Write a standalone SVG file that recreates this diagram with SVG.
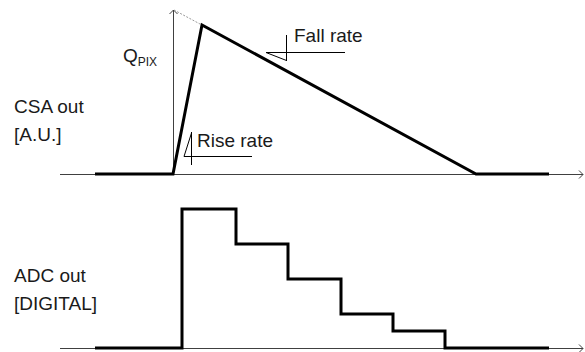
<svg xmlns="http://www.w3.org/2000/svg" width="585" height="352" viewBox="0 0 585 352">
<defs>
<style>
.t{font-family:"Liberation Sans",Arial,sans-serif;font-size:19px;fill:#1a1a1a}
.ax{stroke:#404040;stroke-width:1;fill:none}
.sig{stroke:#000;stroke-width:3;fill:none;stroke-linejoin:miter}
.ann{stroke:#000;stroke-width:1;fill:none}
</style>
</defs>
<rect width="585" height="352" fill="#fff"/>
<g id="labels">
<text class="t" x="14" y="113">CSA out</text>
<text class="t" x="14" y="141">[A.U.]</text>
<text class="t" x="14" y="282">ADC out</text>
<text class="t" x="14" y="310">[DIGITAL]</text>
</g>
<g id="connectors">
<path class="ax" d="M60 174.5H583M579 170.5L583 174.5L579 178.5"/>
<path class="ax" d="M60 348.5H583M579 344.5L583 348.5L579 352.5"/>
<path class="ax" d="M173.5 174V10M169.5 14L173.5 10L177.5 14"/>
<path d="M174 10L200 24" stroke="#999" stroke-width="1" stroke-dasharray="2,1.5" fill="none"/>
</g>
<g id="csa">
<polyline class="sig" points="95,174 173,174 202,25 476,174 549,174"/>
</g>
<g id="adc">
<polyline class="sig" points="95,348 182,348 182,209 236,209 236,244 288,244 288,279 341,279 341,314 393,314 393,331 445,331 445,348 549,348"/>
</g>
<g id="qpix">
<text class="t" x="123" y="62">Q<tspan font-size="12" dy="4">PIX</tspan></text>
</g>
<g id="rise">
<path class="ann" d="M191.5 132V165M191.5 133L184 156.5H252"/>
<text class="t" x="197" y="147">Rise rate</text>
</g>
<g id="fall">
<path class="ann" d="M286.5 35V61M345 52.5H266L286.5 60.5"/>
<text class="t" x="294" y="42">Fall rate</text>
</g>
</svg>
